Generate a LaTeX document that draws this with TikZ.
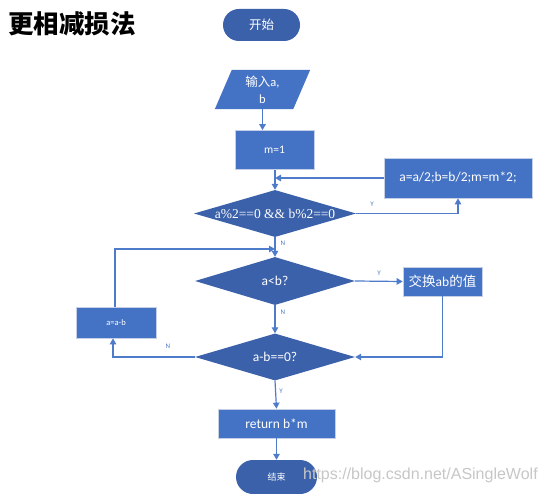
\documentclass[tikz,border=0pt]{standalone}
\usepackage{fontspec}
\setmainfont{Carlito}
\newfontfamily\cjk{Noto Sans CJK SC}
\newfontfamily\serif{Liberation Serif}
\newfontfamily\wm{Liberation Sans}
\usetikzlibrary{shapes.geometric,arrows.meta}
\definecolor{dk}{HTML}{3B61AB}
\definecolor{lt}{HTML}{4472C4}
\definecolor{ln}{HTML}{4E7CCB}
\definecolor{bd}{HTML}{C5D0E6}
\newcommand{\flattxt}[1]{\raisebox{-0.35em}[0pt][0pt]{#1}}
\tikzset{
  box/.style={rectangle,fill=lt,draw=bd,line width=0.7pt,text=white,inner sep=0pt,align=center},
  dia/.style={diamond,fill=dk,draw=none,text=white,inner sep=0pt,align=center,shape aspect=3.4},
  term/.style={rectangle,fill=dk,draw=none,text=white,inner sep=0pt,align=center},
  conn/.style={draw=ln,line width=1.2pt},
  arr/.style={conn,-{Triangle[length=6pt,width=6.5pt]}},
  lab/.style={text=ln,font=\fontsize{7}{8}\selectfont,inner sep=0pt}
}
\begin{document}
\begin{tikzpicture}[x=1pt,y=-1pt]
\useasboundingbox (0,0) rectangle (548,494);
\fill[white] (0,0) rectangle (548,494);
% title
\node[anchor=west,inner sep=0pt,font=\cjk\bfseries\fontsize{25.5}{28}\selectfont] (title) at (8,24) {更相减损法};
% start
\node[term,minimum width=77pt,minimum height=32pt,rounded corners=16pt,font=\cjk\fontsize{12.5}{14}\selectfont] (start) at (261.5,25) {开始};
% input parallelogram
\node[rectangle,inner sep=0pt,minimum width=95pt,minimum height=39pt] (inp) at (262.5,89.5) {};
\fill[lt] ([xshift=17pt]inp.north west) -- (inp.north east) -- ([xshift=-17pt]inp.south east) -- (inp.south west) -- cycle;
\node[text=white,align=center,inner sep=0pt,font=\fontsize{12.5}{17}\selectfont] (inptxt) at (262.5,89.5) {{\cjk 输入}a,\\ b};
% m=1
\node[box,minimum width=79pt,minimum height=39pt,font=\fontsize{11.5}{13}\selectfont] (m1) at (274.5,150) {m=1};
% diamond 1
\node[dia,minimum width=162pt,minimum height=47pt,font=\serif\fontsize{13.5}{15}\selectfont] (d1) at (275,213.5) {\flattxt{a\%2==0 \&\& b\%2==0}};
% half box
\node[box,minimum width=148pt,minimum height=40pt,font=\fontsize{13.5}{15}\selectfont] (half) at (458,178) {a=a/2;b=b/2;m=m*2;};
% diamond 2
\node[dia,minimum width=160pt,minimum height=48pt,font=\fontsize{13.5}{15}\selectfont] (d2) at (275,281) {\flattxt{a<b?}};
% swap
\node[box,minimum width=79pt,minimum height=29pt,font=\fontsize{13.5}{15}\selectfont] (sw) at (442.5,281.5) {{\cjk 交换}ab{\cjk 的值}};
% diamond 3
\node[dia,minimum width=160pt,minimum height=47pt,font=\fontsize{13.5}{15}\selectfont] (d3) at (275,357) {\flattxt{a-b==0?}};
% a=a-b
\node[box,minimum width=80pt,minimum height=31pt,font=\fontsize{8.5}{10}\selectfont] (sub) at (116,322.5) {a=a-b};
% return
\node[box,minimum width=117pt,minimum height=29pt,font=\fontsize{13.5}{15}\selectfont] (ret) at (276.5,423.5) {return b*m};
% end
\node[term,minimum width=81pt,minimum height=34pt,rounded corners=17pt,font=\cjk\fontsize{9}{10}\selectfont] (end) at (276.5,477) {结束};
% connectors
\coordinate (j1) at (275,178);
\coordinate (j2) at (275,249);
\draw[arr] (inp.south) -- (inp.south |- m1.north);
\draw[arr] (m1.south -| d1.north) -- (d1.north);
\draw[arr] (d1.east) -| (half.south);
\node[lab] (ly1) at (372,204) {Y};
\draw[arr] (half.west) -- (j1);
\draw[arr] (d1.south) -- (d2.north);
\node[lab] (ln1) at (283,243) {N};
\draw[arr] (d2.east) -- (sw.west);
\node[lab] (ly2) at (379,273) {Y};
\draw[arr] (sw.south) |- (d3.east);
\draw[arr] (d2.south) -- (d3.north);
\node[lab] (ln2) at (283,312) {N};
\draw[arr] (d3.west) -| ([xshift=-3pt]sub.south);
\node[lab] (ln3) at (168,346) {N};
\draw[arr] ([xshift=-1pt]sub.north) |- (j2);
\draw[arr] (d3.south) -- (ret.north);
\node[lab] (ly3) at (281,391) {Y};
\draw[arr] (ret.south) -- (end.north);
% watermark
\node[anchor=west,inner sep=0pt,text=black!22,font=\wm\fontsize{16}{18}\selectfont] (wmk) at (303,475) {https://blog.csdn.net/ASingleWolf};
\end{tikzpicture}
\end{document}
